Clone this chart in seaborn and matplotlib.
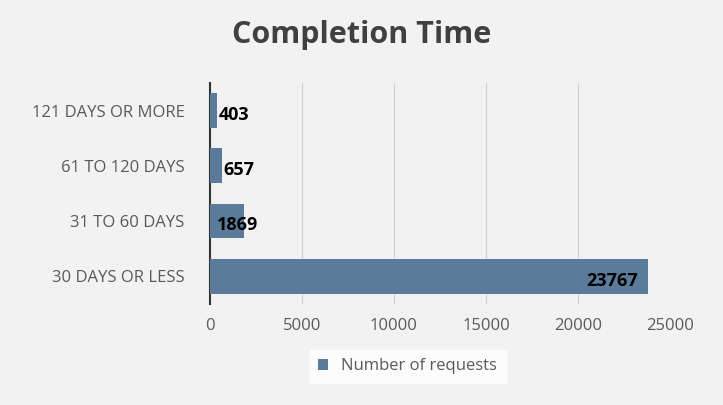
import matplotlib.pyplot as plt
import seaborn as sns
import pandas as pd

categories = ['121 DAYS OR MORE', '61 TO 120 DAYS', '31 TO 60 DAYS', '30 DAYS OR LESS']
requests = [403, 657, 1869, 23767]

sns.set_style('white')
plt.rcParams['font.family'] = ['Open Sans', 'DejaVu Sans']

df = pd.DataFrame({'category': categories, 'requests': requests})
bg = '#f2f2f2'
fig = plt.figure(figsize=(7.23, 4.05), dpi=100, facecolor=bg)
ax = fig.add_axes([0.29, 0.25, 0.637, 0.545], facecolor=bg)

sns.barplot(data=df, y='category', x='requests', color='#5b7b9a', width=0.63,
            saturation=1, ax=ax, label='Number of requests', zorder=3,
            edgecolor='none', linewidth=0)

ax.set_xlim(0, 25000)
ax.set_xticks(range(0, 25001, 5000))
ax.grid(axis='x', color='#d0d0d0', linewidth=0.8, zorder=0)
for s in ['top', 'right', 'bottom']:
    ax.spines[s].set_visible(False)
ax.spines['left'].set_color('#333333')
ax.spines['left'].set_linewidth(1.5)
ax.set_xlabel('')
ax.set_ylabel('')
ax.tick_params(axis='both', labelsize=12, colors='#595959', length=0)
ax.tick_params(axis='y', pad=18)
ax.tick_params(axis='x', pad=10)

for i, v in enumerate(requests):
    if v > 5000:
        ax.text(v - 500, i + 0.08, str(v), ha='right', va='center',
                fontsize=13, fontweight='bold', color='black', zorder=4)
    else:
        x = v if v < 1000 else 300
        ax.text(x + 80, i + 0.08, str(v), ha='left', va='center',
                fontsize=13, fontweight='bold', color='black', zorder=4)

fig.suptitle('Completion Time', x=0.50, y=0.95, fontsize=22, fontweight='bold', color='#404040')

leg = ax.legend(loc='upper center', bbox_to_anchor=(0.43, -0.21), frameon=True,
                fontsize=12, handlelength=0.6, handleheight=0.6, fancybox=False,
                borderpad=0.5, borderaxespad=0, handletextpad=0.8)
leg.get_frame().set_facecolor('white')
leg.get_frame().set_edgecolor('white')
for t in leg.get_texts():
    t.set_color('#595959')

fig.savefig('out.png', dpi=100, facecolor=bg)
